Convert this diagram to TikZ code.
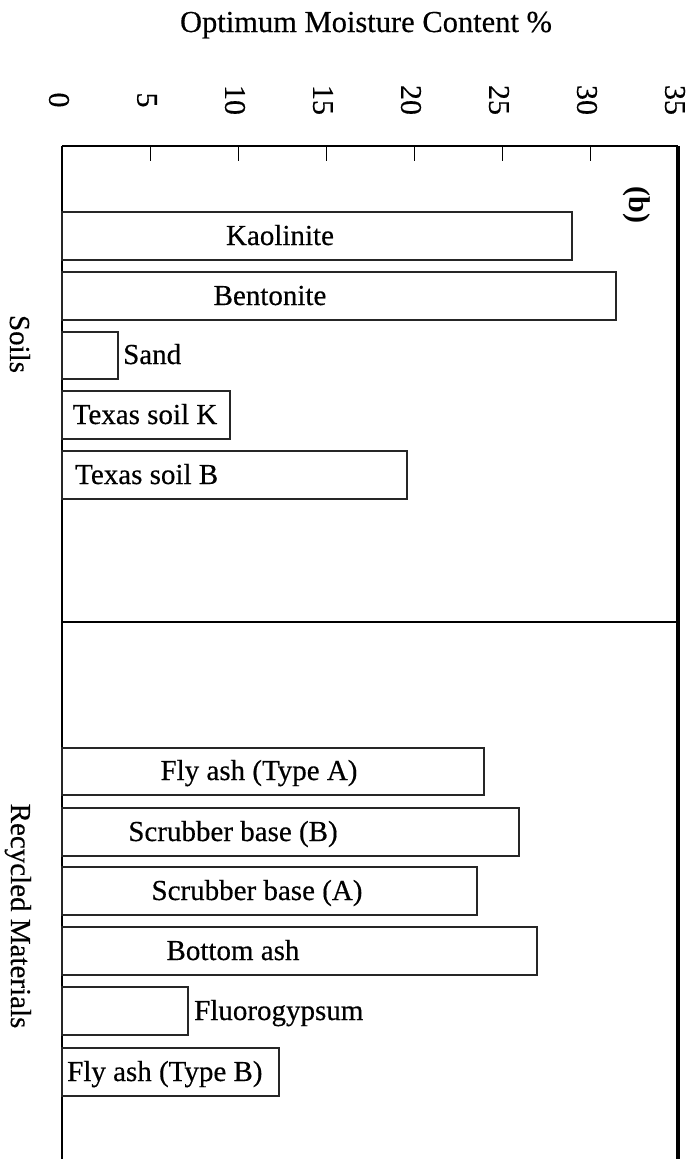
\documentclass[tikz,border=0pt]{standalone}
\usepackage{fontspec}
\setmainfont{Liberation Serif}[UprightFeatures={FakeBold=0.4}]
\begin{document}
\begin{tikzpicture}[x=1pt,y=-1pt,
  lbl/.style={font=\fontsize{29}{34}\selectfont, inner sep=0pt},
  ticklbl/.style={font=\fontsize{30}{34}\selectfont, inner sep=0pt, rotate=-90},
  barbox/.style={draw=black!85, line width=1.2pt},
  framethin/.style={line width=1.8pt},
  tickline/.style={line width=1pt}]
\useasboundingbox (0,0) rectangle (694,1159);
% frame
\draw[framethin] (62,146) -- (678,146);
\draw[line width=2.7pt] (62,146) -- (62,1159);
\draw[line width=3.2pt] (678,146) -- (678,1159);
\draw[framethin] (62,622) -- (678,622);
% ticks and tick labels
\foreach \i in {1,...,6} {\draw[tickline] ({62+88*\i},146) -- ({62+88*\i},161);}
\foreach \i/\v in {0/0,1/5,2/10,3/15,4/20,5/25,6/30,7/35} {
  \node[ticklbl] (t\i) at ({59+88*\i},100) {\v};
}
\node[lbl, anchor=base, font=\fontsize{30.5}{34}\selectfont] (title) at (366,32) {Optimum Moisture Content \%};
\node[lbl, rotate=-90, font=\fontsize{30}{34}\selectfont\bfseries] (panel) at (637,205) {(b)};
% side labels
\node[lbl, rotate=-90, anchor=base] (soils) at (10,344) {Soils};
\node[lbl, rotate=-90, anchor=base] (recyc) at (11,916) {Recycled Materials};
% bars
\draw[barbox] (62,212) rectangle (572,260);
\draw[barbox] (62,272) rectangle (616,320);
\draw[barbox] (62,332) rectangle (118,379);
\draw[barbox] (62,391) rectangle (230,439);
\draw[barbox] (62,451) rectangle (407,499);
\draw[barbox] (62,748) rectangle (484,795);
\draw[barbox] (62,808) rectangle (519,856);
\draw[barbox] (62,867) rectangle (477,915);
\draw[barbox] (62,927) rectangle (537,975);
\draw[barbox] (62,987) rectangle (188,1035);
\draw[barbox] (62,1048) rectangle (279,1096);
% bar labels
\node[lbl, anchor=base] (kao) at (280,245) {Kaolinite};
\node[lbl, anchor=base] (ben) at (270,305) {Bentonite};
\node[lbl, anchor=base west] (sand) at (123,364) {Sand};
\node[lbl, anchor=base] (txk) at (145,424) {Texas soil K};
\node[lbl, anchor=base west] (txb) at (75,484) {Texas soil B};
\node[lbl, anchor=base] (fla) at (259,780) {Fly ash (Type A)};
\node[lbl, anchor=base] (scb) at (233,841) {Scrubber base (B)};
\node[lbl, anchor=base] (sca) at (257,900) {Scrubber base (A)};
\node[lbl, anchor=base] (bot) at (233,960) {Bottom ash};
\node[lbl, anchor=base west] (flu) at (194,1020) {Fluorogypsum};
\node[lbl, anchor=base west] (flb) at (67,1081) {Fly ash (Type B)};
\end{tikzpicture}
\end{document}
